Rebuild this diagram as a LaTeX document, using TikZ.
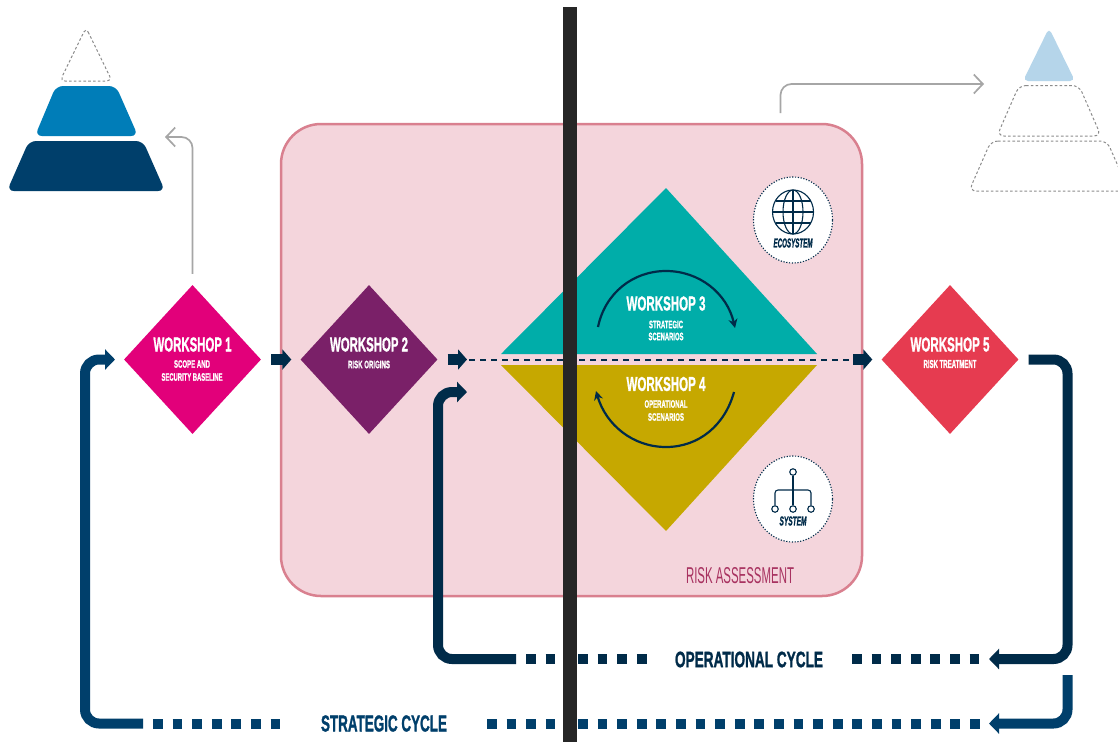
\documentclass[tikz,border=0pt]{standalone}
\usepackage{fontspec}
\usepackage{graphicx}
\setmainfont{Liberation Sans}[BoldFeatures={FakeBold=1.6},BoldItalicFeatures={FakeBold=1.6}]
\usetikzlibrary{arrows.meta,shapes.geometric}
\definecolor{navy}{HTML}{002B49}
\definecolor{steel}{HTML}{003F6B}
\definecolor{midblue}{HTML}{007DB8}
\definecolor{paleblue}{HTML}{B5D5EA}
\definecolor{pinkfill}{HTML}{F4D5DC}
\definecolor{pinkline}{HTML}{D9808F}
\definecolor{rasktext}{HTML}{A83260}
\definecolor{teal3}{HTML}{00ADA9}
\definecolor{gold4}{HTML}{C6A800}
\definecolor{magenta1}{HTML}{E2007A}
\definecolor{purple2}{HTML}{7A2068}
\definecolor{red5}{HTML}{E63B50}
\definecolor{graybar}{HTML}{262626}
\definecolor{grayarrow}{HTML}{A6A6A6}
\newcommand{\fit}[3]{\resizebox{#1pt}{#2pt}{#3}}
\tikzset{
  wsbox/.style={diamond,aspect=0.919,minimum width=137pt,minimum height=149pt,inner sep=0pt,draw=none,fill=#1},
  lab/.style={inner sep=0pt,text=white,font=\bfseries},
  ghost/.style={draw=black!45,dash pattern=on 2.6pt off 2.2pt,line width=1pt,rounded corners=7pt},
  solidpiece/.style={fill=#1,rounded corners=7pt},
  grayline/.style={draw=grayarrow,line width=1.7pt,rounded corners=11pt,-{Straight Barb[length=9pt,width=19pt,line width=1.7pt]}},
  block/.style={draw=#1,line width=10.5pt,-{Triangle[length=9pt,width=20pt,fill=#1]}},
  cycle line/.style={draw=#1,line width=10pt,rounded corners=14pt,-{Triangle[length=10pt,width=20pt,fill=#1]}},
  squares/.style={draw=#1,line width=10pt,dash pattern=on 9.7pt off 9.9pt},
  badge/.style={ellipse,minimum width=79pt,minimum height=86pt,inner sep=0pt,fill=white,draw=navy,dash pattern=on 1.2pt off 1.6pt,line width=1.1pt},
  icon/.style={draw=navy,line width=1.1pt},
  turn/.style={draw=navy,line width=2.2pt,-{Stealth[length=9pt,width=9pt]}},
  leaf/.style={circle,draw=navy,line width=1.1pt,fill=white,minimum size=6.5pt,inner sep=0pt}
}
\begin{document}
\begin{tikzpicture}[x=1pt,y=-1pt]
\clip (0,0) rectangle (1118,742);
\fill[white] (0,0) rectangle (1118,742);

% risk assessment panel
\node[draw=pinkline,fill=pinkfill,line width=2.5pt,rounded corners=40pt,minimum width=581pt,minimum height=472pt,inner sep=0pt] (panel) at (571.5,360) {};
\node[inner sep=0pt,text=rasktext] (risklab) at (740,576) {\fit{108}{16}{RISK ASSESSMENT}};

% left pyramid
\draw[ghost,rounded corners=5pt] (86,27.5) -- (112,81) -- (60,81) -- cycle;
\fill[solidpiece=midblue] (56,86) -- (116,86) -- (138,136) -- (35,136) -- cycle;
\fill[solidpiece=steel] (29,141) -- (143,141) -- (165,191) -- (7,191) -- cycle;

% right pyramid
\fill[solidpiece=paleblue,rounded corners=5pt] (1049,28) -- (1075,81) -- (1023,81) -- cycle;
\draw[ghost] (1019,85.5) -- (1079,85.5) -- (1101,136) -- (997,136) -- cycle;
\draw[ghost] (991,141) -- (1107,141) -- (1129,191) -- (969,191) -- cycle;

% workshop diamonds
\node[wsbox=magenta1] (w1) at (192.5,359.5) {};
\node[wsbox=purple2] (w2) at (369,359.5) {};
\node[wsbox=red5] (w5) at (950,359.5) {};

% central split diamond
\fill[teal3] (666,188) -- (817,354) -- (501,354) -- cycle;
\fill[gold4] (501,365) -- (817,365) -- (666,531) -- cycle;

% labels
\node[lab] (w1t) at (192.5,344.5) {\fit{78}{14}{WORKSHOP 1}};
\node[lab] (w1a) at (192,364) {\fit{36}{7.5}{SCOPE AND}};
\node[lab] (w1b) at (192,377) {\fit{61}{7.5}{SECURITY BASELINE}};
\node[lab] (w2t) at (369,344.5) {\fit{78}{14}{WORKSHOP 2}};
\node[lab] (w2a) at (369,364.5) {\fit{42}{7.5}{RISK ORIGINS}};
\node[lab] (w3t) at (666,303.5) {\fit{79}{14}{WORKSHOP 3}};
\node[lab] (w3a) at (666,324.5) {\fit{34}{7.5}{STRATEGIC}};
\node[lab] (w3b) at (666,336.5) {\fit{35}{7.5}{SCENARIOS}};
\node[lab] (w4t) at (666,384) {\fit{79}{14}{WORKSHOP 4}};
\node[lab] (w4a) at (666,404) {\fit{43}{7.5}{OPERATIONAL}};
\node[lab] (w4b) at (666,417) {\fit{36}{7.5}{SCENARIOS}};
\node[lab] (w5t) at (950,344.5) {\fit{79}{14}{WORKSHOP 5}};
\node[lab] (w5a) at (950,364) {\fit{53}{8}{RISK TREATMENT}};

% turning arrows
\draw[turn] (598,327) .. controls (605,293) and (633,271) .. (666,271) .. controls (699,271) and (727,293) .. (735,328);
\draw[turn] (734,392) .. controls (725,425) and (699,447) .. (666,447) .. controls (633,447) and (606,425) .. (596,391);

% badges
\node[badge] (eco) at (793,220) {};
\draw[icon] (793,212) ellipse (20.5pt and 22pt);
\draw[icon] (793,212) ellipse (10pt and 22pt);
\draw[icon] (793,190) -- (793,234);
\draw[icon] (772.5,212) -- (813.5,212);
\draw[icon] (775.5,201) -- (810.5,201);
\draw[icon] (775.5,223) -- (810.5,223);
\node[inner sep=0pt,text=navy,font=\bfseries\itshape] (ecot) at (793,243) {\fit{39}{9}{ECOSYSTEM}};

\node[badge] (sys) at (793,499) {};
\node[leaf] (s0) at (793,472) {};
\node[leaf] (s1) at (775,509) {};
\node[leaf] (s2) at (793,509) {};
\node[leaf] (s3) at (811,509) {};
\draw[icon] (s0) -- (s2);
\draw[icon,rounded corners=3pt] (s1) -- (775,490) -- (811,490) -- (s3);
\node[inner sep=0pt,text=navy,font=\bfseries\itshape] (syst) at (793,521) {\fit{27}{9}{SYSTEM}};

% gray arrows
\coordinate (pyrL) at (165,137);
\coordinate (pyrR) at (984,84);
\draw[grayline] ([yshift=11pt]w1.north) -- (192.5,137) -- (pyrL);
\coordinate (panelout) at (780.5,113);
\draw[grayline] (panelout) -- (780.5,84) -- (pyrR);

% main flow
\draw[block=navy] ([xshift=10pt]w1.east) -- ([xshift=-9pt]w2.west);
\draw[block=navy] ([xshift=10pt]w2.east) -- (467,359.5);
\draw[draw=navy,line width=2pt,dash pattern=on 6pt off 5pt] (469,359.5) -- ([xshift=-28pt]w5.west);
\draw[block=navy] ([xshift=-28pt]w5.west) -- ([xshift=-9pt]w5.west);

% operational cycle
\coordinate (opR) at (1067.5,659);
\coordinate (opTip) at (989,659);
\coordinate (opEnd) at (516,659);
\coordinate (opIn) at (467,392);
\draw[cycle line=navy] ([xshift=10pt]w5.east) -- (1067.5,359.5) -- (opR) -- (opTip);
\draw[squares=navy] (852,659) -- (979.3,659);
\node[inner sep=0pt,text=navy,font=\bfseries] (opl) at (749,659.5) {\fit{148}{15.5}{OPERATIONAL CYCLE}};
\draw[squares=navy] (578,659) -- (646.5,659);
\draw[squares=navy] (526,659) -- (555.3,659);
\draw[cycle line=navy] (opEnd) -- (438,659) -- (438,392) -- (opIn);

% strategic cycle
\coordinate (stR) at (1067.5,675);
\coordinate (stTip) at (989,723.5);
\coordinate (stEnd) at (143,723.5);
\coordinate (stIn) at (115,359.5);
\draw[cycle line=steel] (stR) -- (1067.5,723.5) -- (stTip);
\draw[squares=steel] (578,723.5) -- (969.7,723.5);
\draw[squares=steel] (970,723.5) -- (979.7,723.5);
\draw[squares=steel] (487,723.5) -- (555.4,723.5);
\node[inner sep=0pt,text=steel,font=\bfseries] (stl) at (384,723.5) {\fit{126}{16}{STRATEGIC CYCLE}};
\draw[squares=steel] (153,723.5) -- (280.3,723.5);
\draw[cycle line=steel] (stEnd) -- (85,723.5) -- (85,359.5) -- (stIn);

% vertical bar
\fill[graybar] (563,7) rectangle (576.5,742);
\end{tikzpicture}
\end{document}
